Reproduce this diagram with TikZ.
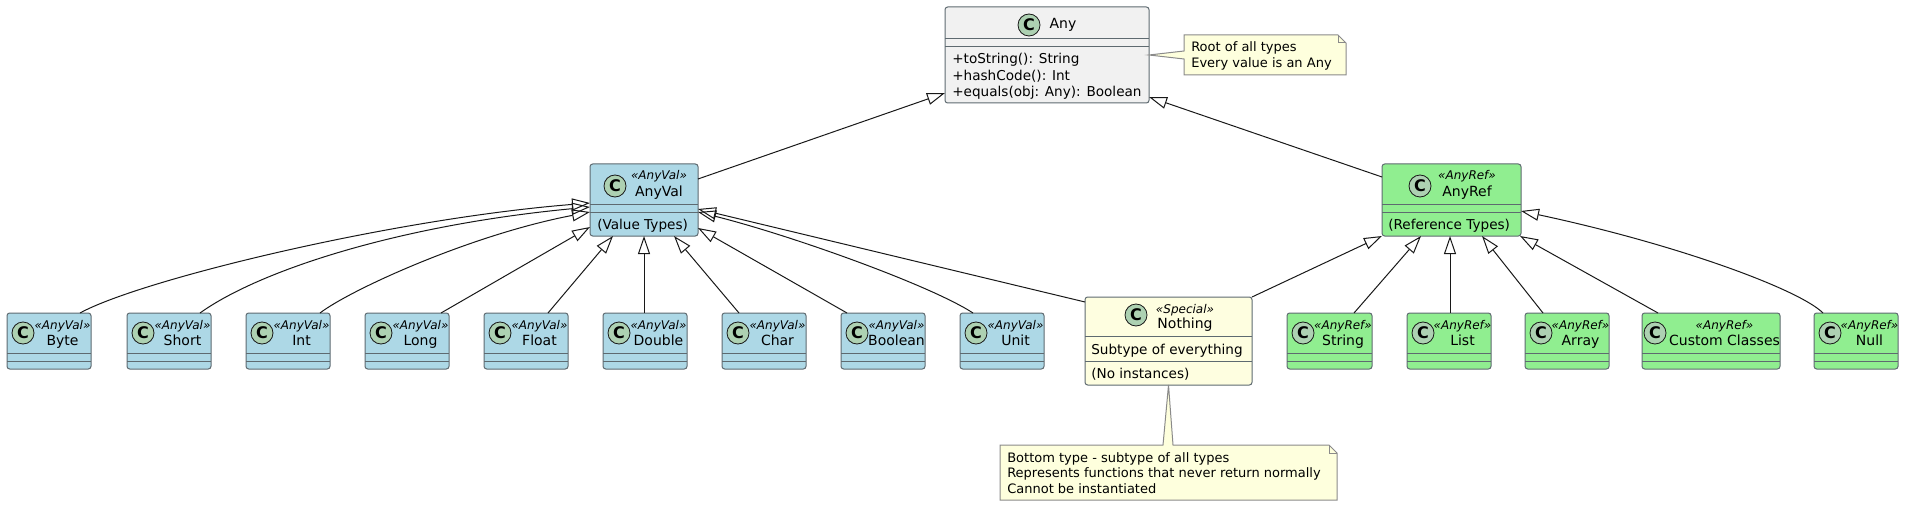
\documentclass[tikz,border=0pt]{standalone}
\usepackage{fontspec}
\setmainfont{DejaVu Sans}
\usetikzlibrary{arrows.meta,calc}
\definecolor{valblue}{HTML}{ADD8E6}
\definecolor{refgreen}{HTML}{90EE90}
\definecolor{nothingyel}{HTML}{FEFEE0}
\definecolor{anygray}{HTML}{F1F1F1}
\definecolor{notefill}{HTML}{FEFFDD}
\definecolor{noteline}{HTML}{8A8A8A}
\definecolor{spotfill}{HTML}{ADD1B2}
\definecolor{edgecol}{HTML}{181818}
\definecolor{boxline}{HTML}{5E6A70}
\tikzset{
 clsbox/.style={draw=boxline, line width=0.75pt, rounded corners=2pt, inner sep=0pt, outer sep=0pt, anchor=north west},
 compline/.style={draw=boxline, line width=0.75pt},
 spot/.style={circle, draw=edgecol, line width=0.6pt, fill=spotfill, minimum size=16.5pt, inner sep=0pt, font=\fontsize{12}{12}\selectfont\bfseries},
 stereo/.style={inner sep=0pt, anchor=base, font=\fontsize{9}{10}\selectfont\itshape},
 clsname/.style={inner sep=0pt, anchor=base, font=\fontsize{10.5}{12}\selectfont},
 member/.style={inner sep=0pt, anchor=base west, font=\fontsize{10.2}{12}\selectfont},
 notetxt/.style={inner sep=0pt, anchor=base west, font=\fontsize{9.75}{11}\selectfont},
 notebox/.style={fill=notefill, draw=noteline, line width=0.75pt, line join=miter},
 ext/.style={draw=edgecol, line width=0.75pt, -{Triangle[open, length=13.5pt, width=9pt]}},
}
\newcommand\leafcls[7]{%
 \node[clsbox, fill=#4, minimum width={#3*0.75pt}, minimum height={56*0.75pt}] (#1) at (#2,313) {};
 \draw[compline] ($(#1.north west)+(0,40)$) -- ($(#1.north east)+(0,40)$);
 \draw[compline] ($(#1.north west)+(0,48)$) -- ($(#1.north east)+(0,48)$);
 \node[spot] (#1-c) at ($(#1.north west)+(#7,20)$) {C};
 \node[stereo] (#1-s) at ($(#1.north west)+({(#3+27)/2},16.5)$) {«#5»};
 \node[clsname] (#1-n) at ($(#1.north west)+({(#3+27)/2},32)$) {#6};
}
\begin{document}
\begin{tikzpicture}[x=0.75pt,y=-0.75pt]
\useasboundingbox (0,0) rectangle (1919,506);

% Any
\node[clsbox, fill=anygray, minimum width={204*0.75pt}, minimum height={96*0.75pt}] (any) at (945,7) {};
\draw[compline] ($(any.north west)+(0,32)$) -- ($(any.north east)+(0,32)$);
\draw[compline] ($(any.north west)+(0,40)$) -- ($(any.north east)+(0,40)$);
\node[spot] (any-c) at ($(any.north west)+(84,18)$) {C};
\node[clsname] (any-n) at ($(any.north west)+(118,22)$) {Any};
\node[member] (any-m1) at ($(any.north west)+(7,57)$) {+toString(): String};
\node[member] (any-m2) at ($(any.north west)+(7,73.5)$) {+hashCode(): Int};
\node[member] (any-m3) at ($(any.north west)+(7,90)$) {+equals(obj: Any): Boolean};

% AnyVal
\node[clsbox, fill=valblue, minimum width={108*0.75pt}, minimum height={72*0.75pt}] (anyval) at (590,164) {};
\draw[compline] ($(anyval.north west)+(0,40)$) -- ($(anyval.north east)+(0,40)$);
\draw[compline] ($(anyval.north west)+(0,48)$) -- ($(anyval.north east)+(0,48)$);
\node[spot] (anyval-c) at ($(anyval.north west)+(25,22)$) {C};
\node[stereo] (anyval-s) at ($(anyval.north west)+(69,16)$) {«AnyVal»};
\node[clsname] (anyval-n) at ($(anyval.north west)+(69,32)$) {AnyVal};
\node[member] (anyval-m) at ($(anyval.north west)+(7,65)$) {(Value Types)};

% AnyRef
\node[clsbox, fill=refgreen, minimum width={139*0.75pt}, minimum height={72*0.75pt}] (anyref) at (1382,164) {};
\draw[compline] ($(anyref.north west)+(0,40)$) -- ($(anyref.north east)+(0,40)$);
\draw[compline] ($(anyref.north west)+(0,48)$) -- ($(anyref.north east)+(0,48)$);
\node[spot] (anyref-c) at ($(anyref.north west)+(38,22)$) {C};
\node[stereo] (anyref-s) at ($(anyref.north west)+(85,16)$) {«AnyRef»};
\node[clsname] (anyref-n) at ($(anyref.north west)+(85,32)$) {AnyRef};
\node[member] (anyref-m) at ($(anyref.north west)+(6,65)$) {(Reference Types)};

% Nothing
\node[clsbox, fill=nothingyel, minimum width={167*0.75pt}, minimum height={88*0.75pt}] (nothing) at (1085,297) {};
\draw[compline] ($(nothing.north west)+(0,39)$) -- ($(nothing.north east)+(0,39)$);
\draw[compline] ($(nothing.north west)+(0,64)$) -- ($(nothing.north east)+(0,64)$);
\node[spot] (nothing-c) at ($(nothing.north west)+(51,18)$) {C};
\node[stereo] (nothing-s) at ($(nothing.north west)+(100,16)$) {«Special»};
\node[clsname] (nothing-n) at ($(nothing.north west)+(100,31)$) {Nothing};
\node[member] (nothing-m1) at ($(nothing.north west)+(6,57)$) {Subtype of everything};
\node[member] (nothing-m2) at ($(nothing.north west)+(6,81)$) {(No instances)};

% leaves
\leafcls{byte}{7}{84}{valblue}{AnyVal}{Byte}{16}
\leafcls{short}{127}{84}{valblue}{AnyVal}{Short}{16}
\leafcls{int}{246}{84}{valblue}{AnyVal}{Int}{16}
\leafcls{long}{365}{84}{valblue}{AnyVal}{Long}{16}
\leafcls{float}{484}{84}{valblue}{AnyVal}{Float}{16}
\leafcls{double}{603}{84}{valblue}{AnyVal}{Double}{16}
\leafcls{char}{722}{84}{valblue}{AnyVal}{Char}{16}
\leafcls{boolean}{841}{84}{valblue}{AnyVal}{Boolean}{16}
\leafcls{unit}{960}{84}{valblue}{AnyVal}{Unit}{16}
\leafcls{string}{1287}{85}{refgreen}{AnyRef}{String}{16}
\leafcls{list}{1407}{84}{refgreen}{AnyRef}{List}{16}
\leafcls{array}{1525}{84}{refgreen}{AnyRef}{Array}{16}
\leafcls{custom}{1642}{138}{refgreen}{AnyRef}{Custom Classes}{13}
\leafcls{null}{1814}{84}{refgreen}{AnyRef}{Null}{16}

% inheritance to Any
\draw[ext] ($(anyval.north east)+(0,15)$) -- ($(any.south west)+(0,-10)$);
\draw[ext] ($(anyref.north west)+(0,13)$) -- ($(any.south east)+(0,-6)$);

% AnyVal children
\draw[ext] ($(byte.north west)+(73,0)$) .. controls (140,280) and (390,219) .. ($(anyval.north west)+(0,39)$);
\draw[ext] ($(short.north west)+(73,0)$) .. controls (260,270) and (400,225) .. ($(anyval.north west)+(0,43)$);
\draw[ext] ($(int.north west)+(74,0)$) .. controls (350,290) and (470,235) .. ($(anyval.north west)+(0,48)$);
\draw[ext] ($(long.north west)+(76,0)$) -- ($(anyval.north west)+(0,63)$);
\draw[ext] ($(float.north west)+(64,0)$) -- ($(anyval.south west)+(23,0)$);
\draw[ext] ($(double.north west)+(41,0)$) -- ($(anyval.south west)+(54,0)$);
\draw[ext] ($(char.north west)+(17,0)$) -- ($(anyval.south west)+(84,0)$);
\draw[ext] ($(boolean.north west)+(6,0)$) -- ($(anyval.north east)+(0,64)$);
\draw[ext] ($(unit.north west)+(13,0)$) .. controls (930,285) and (790,235) .. ($(anyval.north east)+(0,48)$);
\draw[ext] ($(nothing.north west)+(0,5)$) -- ($(anyval.north east)+(0,45)$);

% AnyRef children
\draw[ext] (nothing.north east) -- (anyref.south west);
\draw[ext] ($(string.north west)+(67,0)$) -- ($(anyref.south west)+(39,0)$);
\draw[ext] ($(list.north west)+(43,0)$) -- ($(anyref.south west)+(68,0)$);
\draw[ext] ($(array.north west)+(18,0)$) -- ($(anyref.south west)+(100,0)$);
\draw[ext] ($(custom.north west)+(16,0)$) -- ($(anyref.south east)+(-1,0)$);
\draw[ext] ($(null.north west)+(9,0)$) .. controls (1800,290) and (1680,245) .. ($(anyref.north east)+(0,47)$);

% note on Any
\node[inner sep=0pt, outer sep=0pt, minimum width={162*0.75pt}, minimum height={40*0.75pt}, anchor=north west] (note1) at (1184,35) {};
\path[notebox] (note1.north west) -- ($(note1.north east)+(-8,0)$) -- ($(note1.north east)+(0,8)$) -- (note1.south east) -- (note1.south west) -- ($(note1.north west)+(0,24)$) -- (any.east) -- ($(note1.north west)+(0,16)$) -- cycle;
\draw[draw=noteline, line width=0.75pt] ($(note1.north east)+(-8,0)$) -- ($(note1.north east)+(-8,8)$) -- ($(note1.north east)+(0,8)$);
\node[notetxt] (note1-a) at ($(note1.north west)+(7,17)$) {Root of all types};
\node[notetxt] (note1-b) at ($(note1.north west)+(7,32.5)$) {Every value is an Any};

% note on Nothing
\node[inner sep=0pt, outer sep=0pt, minimum width={337*0.75pt}, minimum height={55*0.75pt}, anchor=north west] (note2) at (1000,445) {};
\path[notebox] (note2.north west) -- ($(note2.north west)+(163,0)$) -- (nothing.south) -- ($(note2.north west)+(173,0)$) -- ($(note2.north east)+(-8,0)$) -- ($(note2.north east)+(0,8)$) -- (note2.south east) -- (note2.south west) -- cycle;
\draw[draw=noteline, line width=0.75pt] ($(note2.north east)+(-8,0)$) -- ($(note2.north east)+(-8,8)$) -- ($(note2.north east)+(0,8)$);
\node[notetxt] (note2-a) at ($(note2.north west)+(7,17)$) {Bottom type - subtype of all types};
\node[notetxt] (note2-b) at ($(note2.north west)+(7,32.5)$) {Represents functions that never return normally};
\node[notetxt] (note2-c) at ($(note2.north west)+(7,48)$) {Cannot be instantiated};
\end{tikzpicture}
\end{document}
